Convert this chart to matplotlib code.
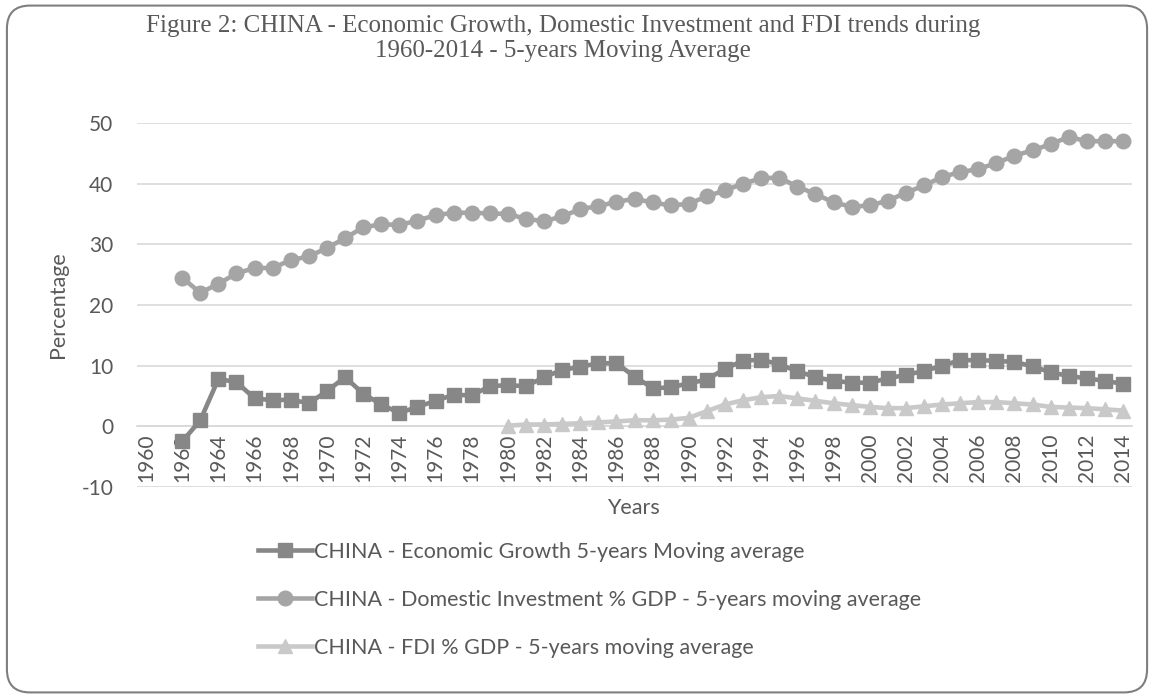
import matplotlib.pyplot as plt
from matplotlib.patches import FancyBboxPatch

# data (5-year moving averages, %)
years_growth = list(range(1962, 2015))
growth = [-2.5, 1.0, 7.8, 7.3, 4.6, 4.3, 4.4, 3.8, 5.8, 8.1,
          5.4, 3.6, 2.2, 3.2, 4.2, 5.2, 5.1, 6.6, 6.8, 6.6,
          8.1, 9.3, 9.8, 10.4, 10.4, 8.2, 6.3, 6.4, 7.1, 7.7,
          9.5, 10.8, 11.0, 10.2, 9.1, 8.1, 7.5, 7.2, 7.2, 7.9,
          8.5, 9.1, 10.0, 10.9, 10.9, 10.8, 10.6, 9.9, 8.9, 8.3,
          7.9, 7.5, 7.0]

years_inv = list(range(1962, 2015))
investment = [24.5, 22.0, 23.5, 25.2, 26.1, 26.1, 27.4, 28.0, 29.4, 31.0,
              32.8, 33.3, 33.2, 33.9, 34.8, 35.2, 35.2, 35.1, 35.0, 34.2,
              33.8, 34.6, 35.8, 36.3, 37.0, 37.5, 36.9, 36.4, 36.7, 37.9,
              38.9, 40.0, 40.9, 41.0, 39.5, 38.3, 36.9, 36.2, 36.4, 37.2,
              38.5, 39.7, 41.1, 41.9, 42.4, 43.4, 44.6, 45.5, 46.5, 47.7,
              47.0, 47.0, 47.0]

years_fdi = list(range(1980, 2015))
fdi = [0.1, 0.3, 0.3, 0.4, 0.5, 0.65, 0.8, 1.0, 1.0, 1.1,
       1.4, 2.5, 3.6, 4.3, 4.8, 5.0, 4.6, 4.2, 3.8, 3.5,
       3.2, 3.0, 3.0, 3.3, 3.6, 3.8, 4.0, 4.0, 3.8, 3.6,
       3.2, 3.1, 3.0, 2.8, 2.6]

tick_years = list(range(1960, 2015, 2))

label_growth = "CHINA - Economic Growth 5-years Moving average"
label_inv = "CHINA - Domestic Investment % GDP - 5-years moving average"
label_fdi = "CHINA - FDI % GDP - 5-years moving average"

txt = "#595959"
plt.rcParams['font.family'] = ['Lato', 'DejaVu Sans']
plt.rcParams['axes.unicode_minus'] = False

fig = plt.figure(figsize=(11.54, 6.98), dpi=100)
ax = fig.add_axes([0.1187, 0.3023, 0.8623, 0.5215])

# rounded chart border
fig.patches.append(FancyBboxPatch((0.006, 0.008), 0.988, 0.984,
                                  boxstyle="round,pad=0,rounding_size=0.02",
                                  transform=fig.transFigure, fill=False,
                                  edgecolor="#7f7f7f", linewidth=1.5,
                                  mutation_aspect=1.65))

ax.plot(years_growth, growth, color="#878787", lw=3.3, marker="s", ms=9.5,
        label=label_growth, zorder=3)
ax.plot(years_inv, investment, color="#a5a5a5", lw=3.3, marker="o", ms=10.5,
        label=label_inv, zorder=3)
ax.plot(years_fdi, fdi, color="#c9c9c9", lw=3.3, marker="^", ms=9.5,
        label=label_fdi, zorder=3)

ax.set_xlim(1959.5, 2014.5)
ax.set_ylim(-10, 50)
ax.spines["bottom"].set_position(("data", 0))
ax.set_yticks(range(-10, 51, 10))
ax.set_xticks(tick_years)
ax.set_xticklabels([str(y) for y in tick_years])
ax.grid(axis="y", color="#d9d9d9", lw=1.2)
ax.set_axisbelow(True)
for s in ["top", "right", "left"]:
    ax.spines[s].set_visible(False)
ax.spines["bottom"].set_color("#d9d9d9")
ax.spines["bottom"].set_linewidth(1.2)
ax.tick_params(axis="both", length=0, labelsize=15, labelcolor=txt)
ax.tick_params(axis="y", pad=17)
ax.tick_params(axis="x", pad=5, labelrotation=90)

ax.set_ylabel("Percentage", fontsize=15.5, color=txt, labelpad=10)
fig.text(0.549, 0.272, "Years", fontsize=15.5, color=txt, ha="center", va="center")

fig.text(0.488, 0.945, "Figure 2: CHINA - Economic Growth, Domestic Investment and FDI trends during\n"
         "1960-2014 - 5-years Moving Average", family="Liberation Serif",
         fontsize=18, color=txt, ha="center", va="center", linespacing=1.2)

leg = fig.legend(loc="upper left", bbox_to_anchor=(0.216, 0.236), frameon=False,
                 fontsize=15.5, handlelength=2.5, handletextpad=0.1,
                 labelspacing=1.3, borderaxespad=0)
for t in leg.get_texts():
    t.set_color(txt)

fig.savefig("out.png", dpi=100)
